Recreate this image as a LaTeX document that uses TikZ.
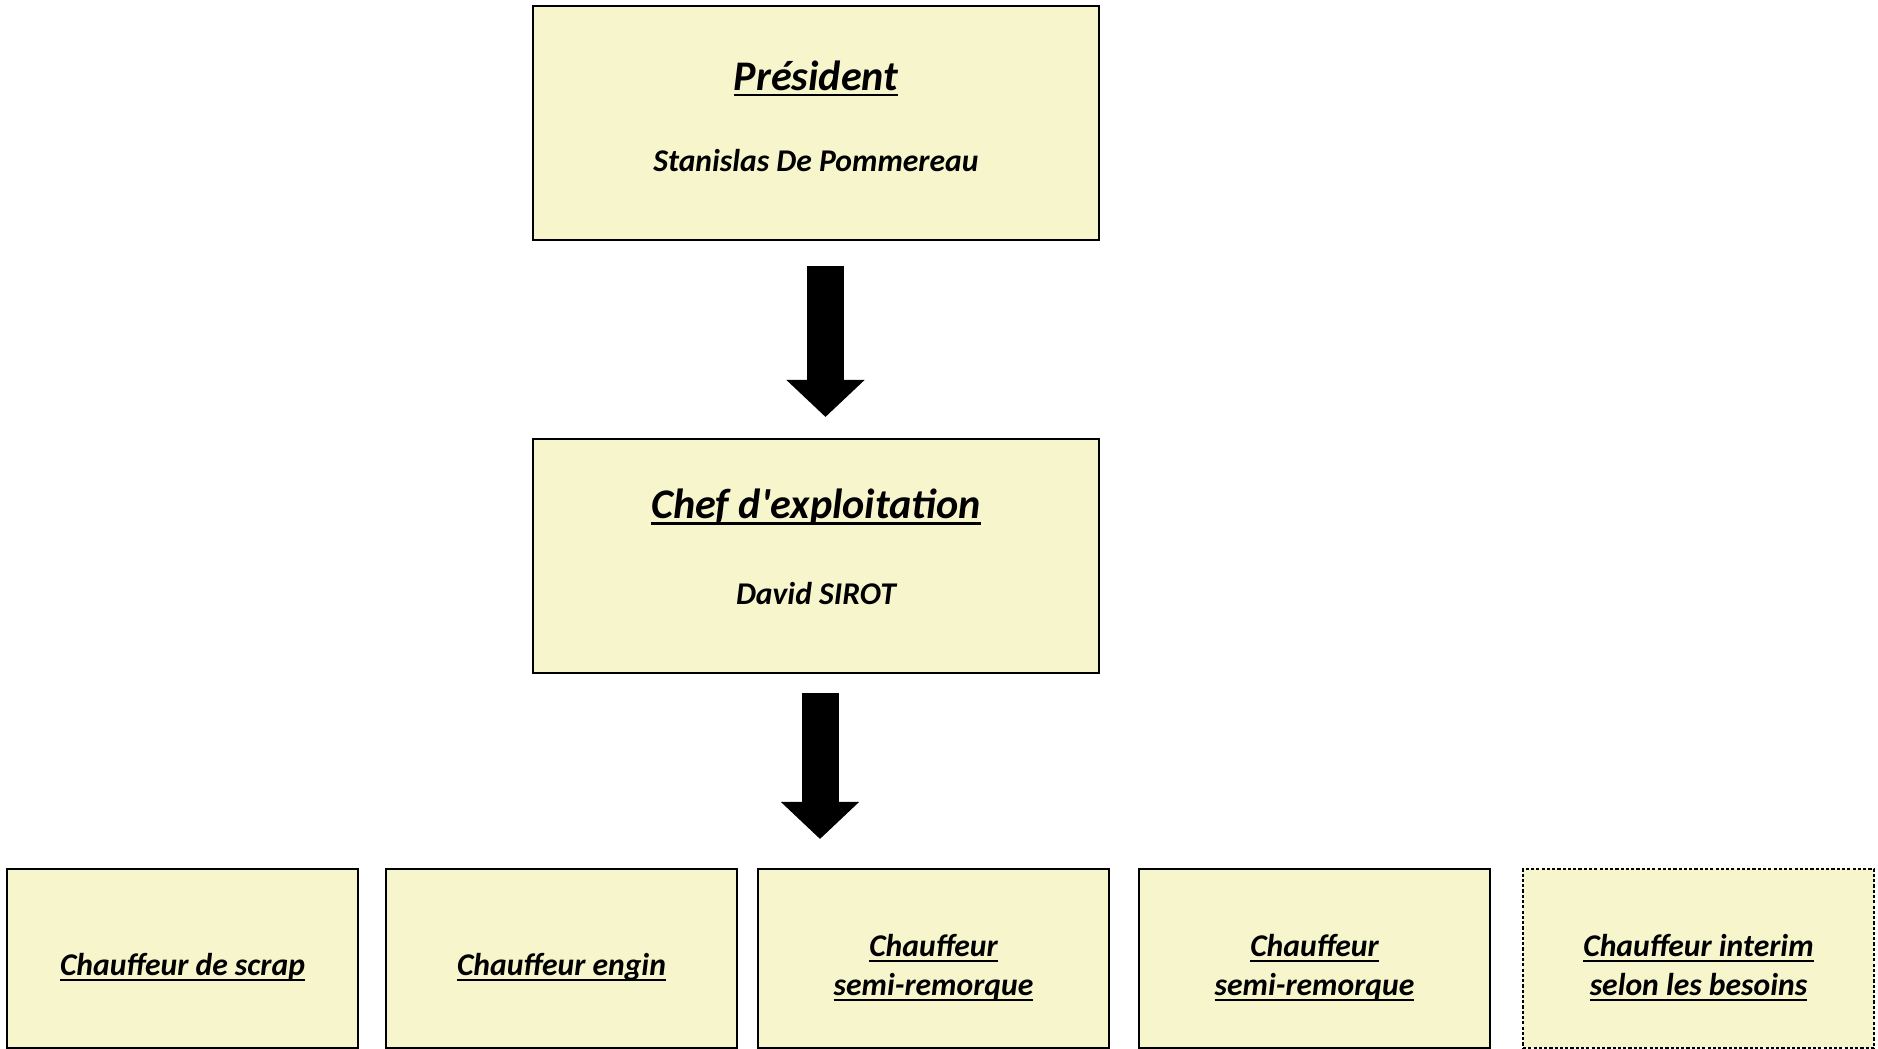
\documentclass[tikz,border=0pt]{standalone}
\usepackage{fontspec}
\setmainfont{Carlito}[Ligatures=TeXOff]
\usetikzlibrary{arrows.meta,positioning}
\definecolor{paleyellow}{HTML}{F7F5CC}
\newsavebox{\undlbox}
\newcommand{\undl}[1]{\sbox{\undlbox}{#1}\rlap{\rule[-1.6pt]{\wd\undlbox}{0.6pt}}\usebox{\undlbox}}
\newcommand{\tallstrut}{\rule{0pt}{0.40cm}}

\begin{document}
\begin{tikzpicture}[node distance=0.26cm, line width=0.57pt,
    box/.style={draw, fill=paleyellow, rectangle, align=center, font=\fontsize{9}{11}\selectfont\bfseries\itshape},
    headbox/.style={box, minimum width=5.66cm, minimum height=2.34cm, text depth=0.16cm},
    staffbox/.style={box, minimum width=3.51cm, minimum height=1.79cm},
    tempbox/.style={staffbox, dash pattern=on 0.9pt off 0.6pt},
    bigarrow/.style={line width=0.37cm, -{Triangle[width=0.76cm,length=0.37cm]}}]
                \useasboundingbox (0,0) rectangle (18.78,-10.49);
                \node[headbox, text depth=0.14cm] (president) at (8.16,-1.23) {{\fontsize{12}{14}\selectfont\undl{Président}}\\[0.42cm]Stanislas De Pommereau};
                \node[headbox, text depth=0.18cm, below=1.97cm of president] (operations_chief) {{\fontsize{12}{14}\selectfont\undl{Chef d'exploitation}}\\[0.47cm]David SIROT};

                \node[staffbox] (driver_scrap) at (1.825,-9.585) {\tallstrut\undl{Chauffeur de scrap}};
                \node[staffbox, right=0.26cm of driver_scrap] (driver_machine) {\tallstrut\undl{Chauffeur engin}};
                \node[staffbox, right=0.19cm of driver_machine] (driver_semi_a) {\tallstrut\undl{Chauffeur}\\\undl{semi-remorque}};
                \node[staffbox, right=0.28cm of driver_semi_a] (driver_semi_b) {\tallstrut\undl{Chauffeur}\\\undl{semi-remorque}};
                \node[tempbox, right=0.31cm of driver_semi_b] (driver_temp) {\tallstrut\undl{Chauffeur interim}\\\undl{selon les besoins}};

                \draw[bigarrow] ([xshift=0.095cm,yshift=-0.25cm]president.south) -- ([xshift=0.095cm,yshift=0.21cm]operations_chief.north);
                \draw[bigarrow] ([xshift=0.04cm,yshift=-0.19cm]operations_chief.south) -- ([xshift=0.04cm,yshift=0.29cm]operations_chief.south |- driver_semi_a.north);
            \end{tikzpicture}
\end{document}
